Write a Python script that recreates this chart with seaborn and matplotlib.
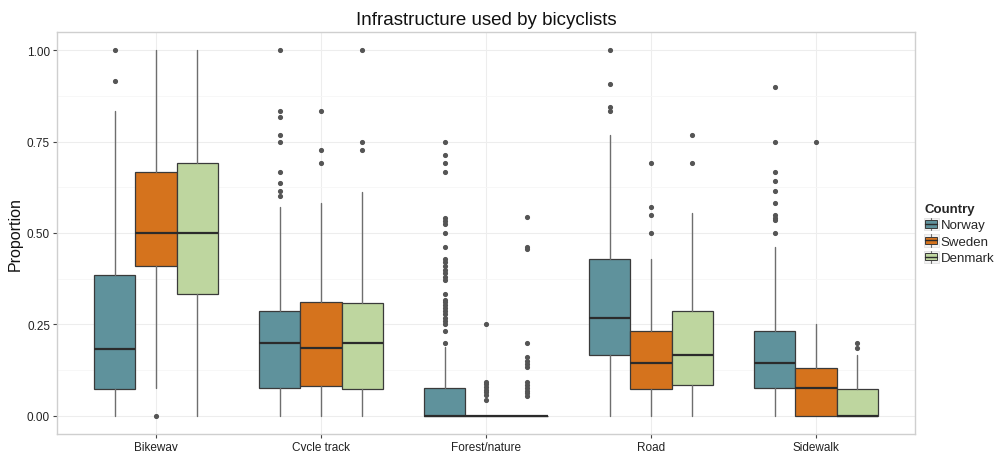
import matplotlib
matplotlib.use("Agg")
import matplotlib.pyplot as plt
import seaborn as sns
from matplotlib.legend_handler import HandlerBase
from matplotlib.patches import Rectangle
from matplotlib.lines import Line2D

# ---- data -------------------------------------------------------------
categories = ["Bikeway", "Cycle track", "Forest/nature", "Road", "Sidewalk"]
countries = ["Norway", "Sweden", "Denmark"]
country_colors = ["#5F929C", "#D5731D", "#BED69F"]

# box statistics, one row per category, one column per country
q1 = [[0.072, 0.411, 0.333],
      [0.077, 0.080, 0.072],
      [0.000, 0.000, 0.000],
      [0.167, 0.074, 0.084],
      [0.077, 0.000, 0.000]]
median = [[0.182, 0.500, 0.500],
          [0.200, 0.185, 0.200],
          [0.000, 0.000, 0.000],
          [0.267, 0.143, 0.167],
          [0.143, 0.077, 0.000]]
q3 = [[0.384, 0.667, 0.692],
      [0.286, 0.311, 0.308],
      [0.077, 0.000, 0.000],
      [0.429, 0.231, 0.286],
      [0.231, 0.130, 0.072]]
whisker_low = [[0.0, 0.077, 0.0],
               [0.0, 0.0, 0.0],
               [0.0, 0.0, 0.0],
               [0.0, 0.0, 0.0],
               [0.0, 0.0, 0.0]]
whisker_high = [[0.833, 1.000, 1.000],
                [0.571, 0.583, 0.611],
                [0.188, 0.000, 0.000],
                [0.769, 0.429, 0.556],
                [0.462, 0.250, 0.167]]

# outlying observations per category
outliers_norway = [
    [1.0, 0.917],
    [1.0, 0.833, 0.818, 0.769, 0.75, 0.667, 0.636, 0.615, 0.6],
    [0.75, 0.714, 0.692, 0.667, 0.54, 0.532, 0.525, 0.5, 0.461, 0.43,
     0.42, 0.41, 0.4, 0.39, 0.38, 0.371, 0.333, 0.317, 0.31, 0.302,
     0.295, 0.286, 0.277, 0.268, 0.259, 0.25, 0.233, 0.2],
    [1.0, 0.909, 0.846, 0.833],
    [0.9, 0.75, 0.667, 0.643, 0.615, 0.583, 0.548, 0.541, 0.536, 0.5],
]
outliers_sweden = [
    [0.0],
    [0.833, 0.727, 0.692],
    [0.25, 0.093, 0.086, 0.079, 0.071, 0.064, 0.057, 0.044],
    [0.692, 0.571, 0.548, 0.5],
    [0.75],
]
outliers_denmark = [
    [],
    [1.0, 0.75, 0.727],
    [0.545, 0.461, 0.455, 0.2, 0.16, 0.151, 0.142, 0.133,
     0.091, 0.084, 0.077, 0.069, 0.062, 0.055],
    [0.769, 0.692],
    [0.2, 0.186],
]
outliers = [outliers_norway, outliers_sweden, outliers_denmark]

y_ticks = [0.0, 0.25, 0.5, 0.75, 1.0]
y_tick_labels = ["0.00", "0.25", "0.50", "0.75", "1.00"]

# ---- style ------------------------------------------------------------
sns.set_theme(style="white")
plt.rcParams["font.family"] = ["Liberation Sans", "DejaVu Sans"]
palette = sns.color_palette(country_colors)

fig = plt.figure(figsize=(9.96, 4.52), dpi=100)
ax = fig.add_axes([57 / 996, 17 / 452, 858 / 996, 402 / 452])

dodge = 0.25
box_width = 0.25
for j, country in enumerate(countries):
    stats = []
    positions = []
    for i, cat in enumerate(categories):
        stats.append(dict(q1=q1[i][j], med=median[i][j], q3=q3[i][j],
                          whislo=whisker_low[i][j], whishi=whisker_high[i][j],
                          fliers=outliers[j][i], label=cat))
        positions.append(i + 1 + (j - 1) * dodge)
    ax.bxp(stats, positions=positions, widths=box_width, patch_artist=True,
           showcaps=False, manage_ticks=False,
           boxprops=dict(facecolor=palette[j], edgecolor="#3a3a3a", linewidth=0.9),
           medianprops=dict(color="#2b2b2b", linewidth=1.6, solid_capstyle="butt"),
           whiskerprops=dict(color="#6e6e6e", linewidth=1.0),
           flierprops=dict(marker="o", markersize=2.7, markerfacecolor="#555555",
                           markeredgecolor="#555555", linestyle="none"))

ax.set_xlim(0.4, 5.6)
ax.set_ylim(-0.05, 1.05)
ax.set_xticks(range(1, len(categories) + 1))
ax.set_xticklabels(categories, fontsize=8.5, color="#222222")
ax.set_yticks(y_ticks)
ax.set_yticklabels(y_tick_labels, fontsize=8.5, color="#222222")
ax.set_yticks([0.125, 0.375, 0.625, 0.875], minor=True)

ax.grid(True, which="major", color="#EDEDED", linewidth=0.8)
ax.grid(True, which="minor", axis="y", color="#F6F6F6", linewidth=0.6)
ax.set_axisbelow(True)
for spine in ax.spines.values():
    spine.set_color("#CFCFCF")
    spine.set_linewidth(1.0)
ax.tick_params(axis="both", which="major", length=3, width=0.8, color="#444444",
               pad=2, bottom=True, left=True)
ax.tick_params(axis="both", which="minor", length=0)

ax.set_ylabel("Proportion", fontsize=11.5, color="#111111", labelpad=3)
ax.set_xlabel("")
ax.set_title("Infrastructure used by bicyclists", fontsize=13.5, color="#111111", pad=6)


class BoxKey(HandlerBase):
    """Small boxplot glyph used as legend key."""

    def create_artists(self, legend, orig_handle, xdescent, ydescent,
                       width, height, fontsize, trans):
        fc = orig_handle.get_facecolor()
        cx = -xdescent + width / 2
        bg = Rectangle((-xdescent, -ydescent), width, height, facecolor="#F2F2F2",
                       edgecolor="#DDDDDD", linewidth=0.5, transform=trans)
        w1 = Line2D([cx, cx], [-ydescent, -ydescent + height], color="#6e6e6e",
                    linewidth=0.8, transform=trans)
        box = Rectangle((-xdescent + width * 0.1, -ydescent + height * 0.22),
                        width * 0.8, height * 0.56, facecolor=fc,
                        edgecolor="#3a3a3a", linewidth=0.7, transform=trans)
        med = Line2D([-xdescent + width * 0.1, -xdescent + width * 0.9],
                     [-ydescent + height / 2] * 2, color="#2b2b2b", linewidth=1.0,
                     transform=trans)
        return [bg, w1, box, med]


handles = [Rectangle((0, 0), 1, 1, facecolor=palette[j]) for j in range(len(countries))]
leg = fig.legend(handles, countries, title="Country", loc="upper left",
                 bbox_to_anchor=(924 / 996, 1 - 204 / 452), frameon=False,
                 fontsize=9.5, title_fontsize=9.5, handler_map={Rectangle: BoxKey()},
                 handlelength=1.1, handleheight=1.1, handletextpad=0.15,
                 labelspacing=0.2, borderpad=0, borderaxespad=0)
leg.get_title().set_fontweight("bold")
leg._legend_box.align = "left"

fig.savefig("out.png", dpi=100)
